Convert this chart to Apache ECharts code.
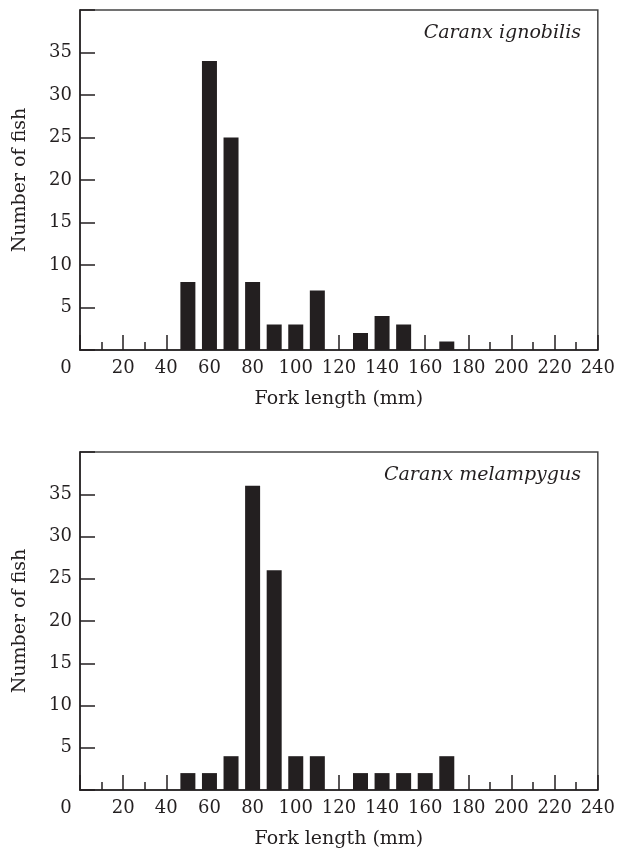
<!DOCTYPE html>
<html>
<head>
<meta charset="utf-8">
<script src="https://cdn.jsdelivr.net/npm/echarts@6/dist/echarts.min.js"></script>
<style>
  html, body { margin: 0; padding: 0; background: #fff; }
  #chart { width: 618px; height: 850px; }
</style>
</head>
<body>
<div id="chart"></div>
<script>
// fork length class midpoints (mm)
const lengths = [50, 60, 70, 80, 90, 100, 110, 120, 130, 140, 150, 160, 170];
const ignobilis = [8, 34, 25, 8, 3, 3, 7, 0, 2, 4, 3, 0, 1];
const melampygus = [2, 2, 4, 36, 26, 4, 4, 0, 2, 2, 2, 2, 4];
const species = ["Caranx ignobilis", "Caranx melampygus"];
const xTitle = "Fork length (mm)";
const yTitle = "Number of fish";

const font = "DejaVu Serif";
const ink = "#231f20";
const grids = [
  { left: 80, right: 19, top: 10, height: 340 },
  { left: 80, right: 19, top: 452, height: 340 }
];

function xAxis(i) {
  return {
    type: "value", gridIndex: i, min: 0, max: 240, interval: 20,
    name: xTitle, nameLocation: "middle", nameGap: 40,
    nameTextStyle: { fontFamily: font, fontSize: 19, color: ink },
    axisLine: { lineStyle: { color: ink, width: 1.5 } },
    axisTick: { inside: true, length: 15, lineStyle: { color: ink, width: 1.5 } },
    minorTick: { show: true, splitNumber: 2, length: 8, lineStyle: { color: ink, width: 1.5 } },
    splitLine: { show: false },
    axisLabel: {
      fontFamily: font, fontSize: 18, color: ink, margin: 9,
      formatter: v => v === 0 ? "{z|0}" : String(v),
      rich: { z: { fontFamily: font, fontSize: 18, color: ink, padding: [0, 28, 0, 0] } }
    }
  };
}

function yAxis(i) {
  return {
    type: "value", gridIndex: i, min: 0, max: 40, interval: 5,
    name: yTitle, nameLocation: "middle", nameGap: 50,
    nameTextStyle: { fontFamily: font, fontSize: 19, color: ink },
    axisLine: { show: true, lineStyle: { color: ink, width: 1.5 } },
    axisTick: { show: true, inside: true, length: 15, lineStyle: { color: ink, width: 1.5 } },
    splitLine: { show: false },
    axisLabel: {
      fontFamily: font, fontSize: 18, color: ink, margin: 8,
      formatter: v => (v === 0 || v === 40) ? "" : String(v)
    }
  };
}

function barSeries(i, values) {
  return {
    type: "bar", xAxisIndex: i, yAxisIndex: i, barWidth: 15,
    itemStyle: { color: ink },
    data: lengths.map((x, k) => [x, values[k]])
  };
}

const chart = echarts.init(document.getElementById("chart"), null, { renderer: "canvas" });
chart.setOption({
  animation: false,
  backgroundColor: "#fff",
  grid: grids.map(g => Object.assign({ show: true, borderColor: "#444", borderWidth: 1.5 }, g)),
  title: species.map((s, i) => ({
    text: s, right: 32, top: grids[i].top + 9,
    textStyle: { fontFamily: font, fontStyle: "italic", fontWeight: "normal", fontSize: 19, color: ink }
  })),
  xAxis: [xAxis(0), xAxis(1)],
  yAxis: [yAxis(0), yAxis(1)],
  series: [barSeries(0, ignobilis), barSeries(1, melampygus)]
});
</script>
</body>
</html>
